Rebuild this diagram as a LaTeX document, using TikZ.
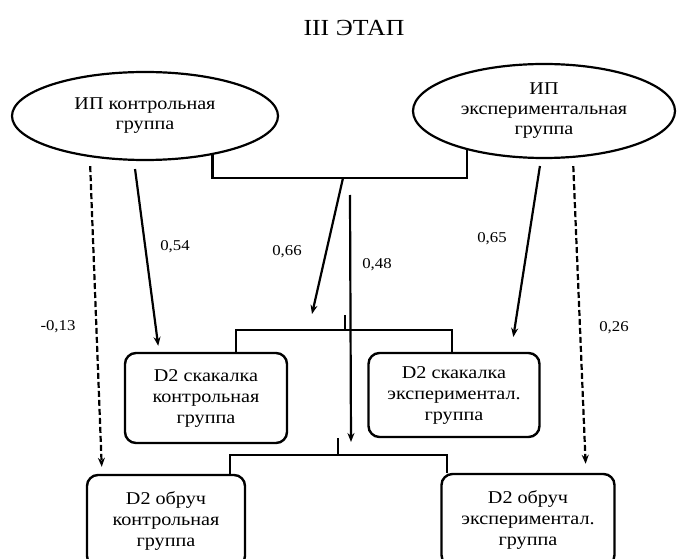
\documentclass[tikz,border=0pt]{standalone}
\usepackage{fontspec}
\setmainfont[FakeStretch=1.12]{Liberation Serif}
\usetikzlibrary{shapes.geometric,arrows.meta,positioning}

\begin{document}
\begin{tikzpicture}[x=1pt,y=-1pt,>={Stealth[length=9pt,width=7pt]},
	ip/.style={ellipse,draw,line width=2.2pt,inner sep=0pt,align=center,font=\fontsize{18}{20}\selectfont},
	grp/.style={rectangle,rounded corners=11pt,draw,line width=2.4pt,align=center,font=\fontsize{18}{21}\selectfont},
	lbl/.style={font=\fontsize{15}{15}\selectfont},
	link/.style={line width=2.2pt},
	dlink/.style={line width=2.2pt,dash pattern=on 6pt off 3pt}]
	\useasboundingbox (0,0) rectangle (678,559);
	\node[font=\fontsize{23}{23}\selectfont] (title) at (354,28) {III ЭТАП};
	\node[ip,minimum width=266pt,minimum height=88pt] (ipk) at (145,116) {ИП контрольная\\группа};
	\node[ip,minimum width=262pt,minimum height=94pt] (ipe) at (544,111) {ИП\\экспериментальная\\группа};
	\node[grp,minimum width=162pt,minimum height=90pt] (skk) at (206,398) {D2 скакалка\\контрольная\\группа};
	\node[grp,minimum width=171pt,minimum height=84pt] (ske) at (454,395) {D2 скакалка\\экспериментал.\\группа};
	\node[grp,minimum width=158pt,minimum height=92pt] (obk) at (166,521) {D2 обруч\\контрольная\\группа};
	\node[grp,minimum width=173pt,minimum height=92pt] (obe) at (528,520) {D2 обруч\\экспериментал.\\группа};
	\coordinate (jip) at (343,178);
	\coordinate (jsk) at (345,330);
	\coordinate (job) at (338,455);
	\coordinate (e66) at (312,314);
	\coordinate (s48) at (350,195);
	\coordinate (e48) at (351,442);
	\draw[link] (ipk.-30) |- (jip) -| (ipe.-153);
	\draw[link,->] (jip) -- (e66);
	\draw[link,->] (s48) -- (e48);
	\draw[link] ([xshift=30pt]skk.north) |- (jsk) -| ([xshift=-2pt]ske.north);
	\draw[link] (jsk) -- ++(0,-15);
	\draw[link] ([xshift=64pt]obk.north) |- (job) -| ([xshift=-81pt]obe.north);
	\draw[link] (job) -- ++(0,-17);
	\draw[link,->,shorten <=8pt,shorten >=6pt] ([xshift=-11pt]ipk.south) -- ([xshift=-47pt]skk.north);
	\draw[link,->,shorten <=7pt,shorten >=15pt] ([xshift=-3pt]ipe.south) -- ([xshift=57pt]ske.north);
	\draw[dlink,->,shorten <=5pt,shorten >=7pt] ([xshift=-55pt]ipk.south) -- ([xshift=-64pt]obk.north);
	\draw[dlink,->,shorten <=7pt,shorten >=9pt] ([xshift=29pt]ipe.south) -- ([xshift=58pt]obe.north);
	\node[lbl] (l54) at (175,247) {0,54};
	\node[lbl] (l13) at (58,327) {-0,13};
	\node[lbl] (l66) at (287,252) {0,66};
	\node[lbl] (l48) at (377,265) {0,48};
	\node[lbl] (l65) at (492,239) {0,65};
	\node[lbl] (l26) at (614,328) {0,26};
\end{tikzpicture}
\end{document}
